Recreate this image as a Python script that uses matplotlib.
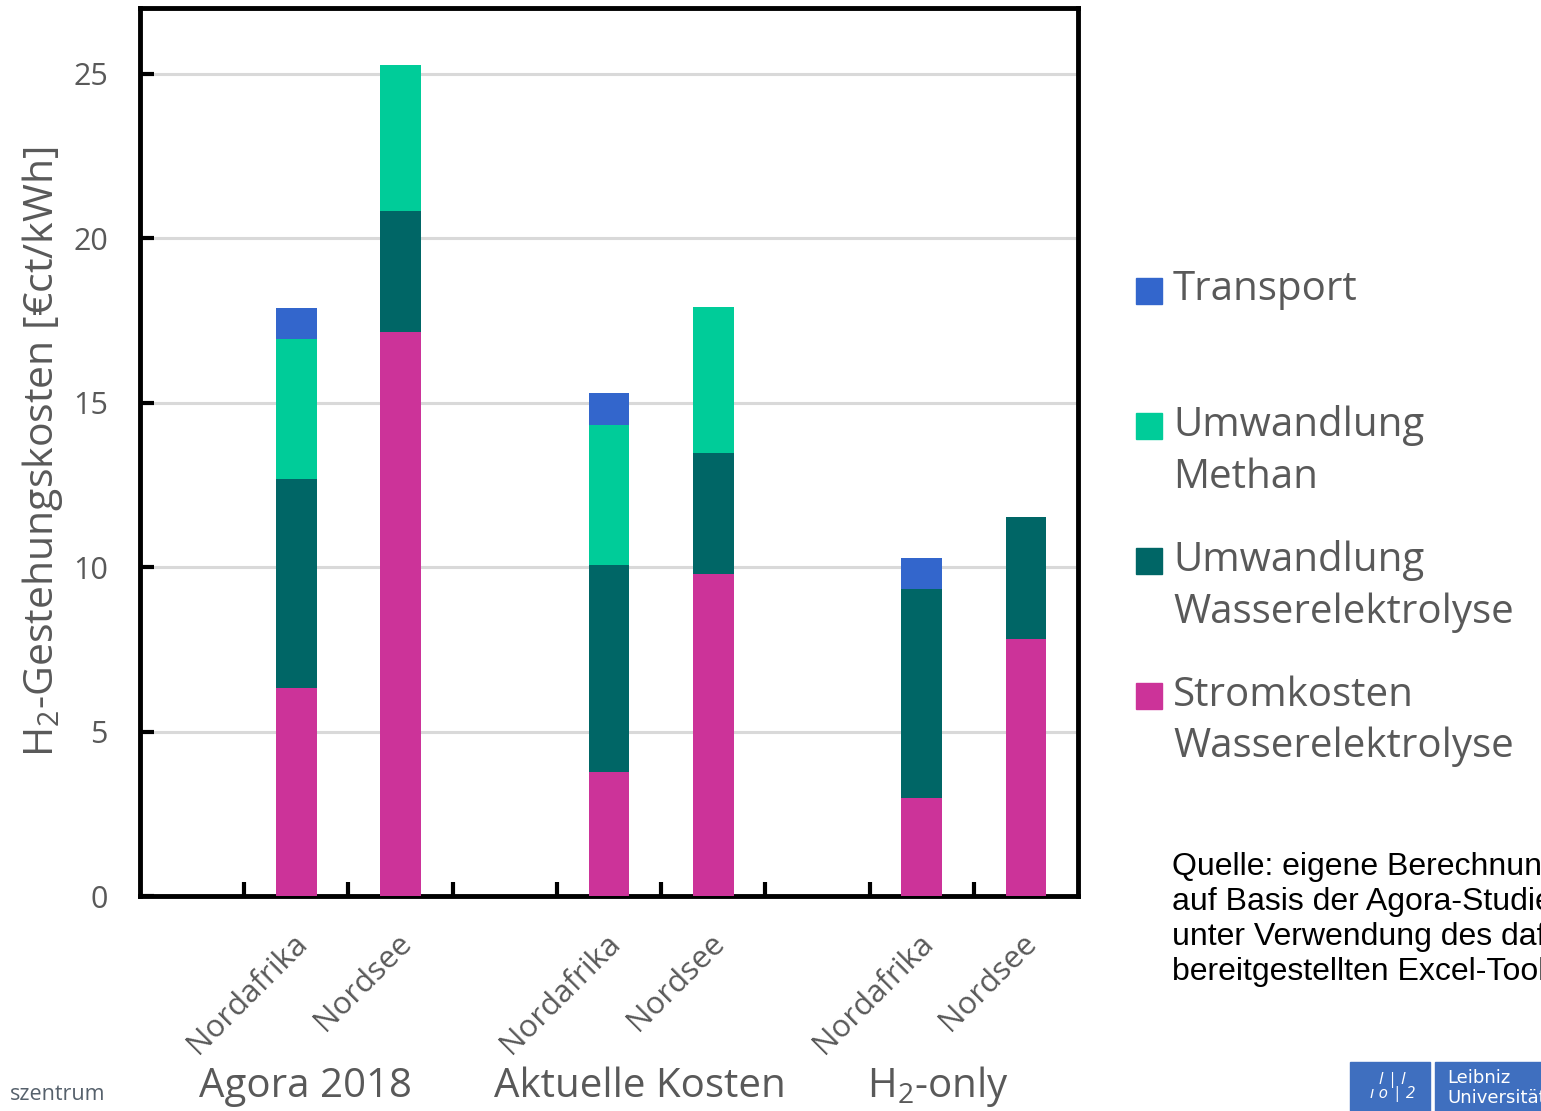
import matplotlib
matplotlib.use("Agg")
import matplotlib.pyplot as plt
import matplotlib.transforms as mtransforms
from matplotlib.patches import Rectangle

plt.rcParams['font.family'] = ['Open Sans', 'DejaVu Sans']
plt.rcParams['mathtext.fontset'] = 'custom'
plt.rcParams['mathtext.rm'] = 'Open Sans'
plt.rcParams['mathtext.it'] = 'Open Sans:italic'

# Daten: H2-Gestehungskosten in ct/kWh, gestapelt
slots = [1, 2, 4, 5, 7, 8]
orte = ["Nordafrika", "Nordsee", "Nordafrika", "Nordsee", "Nordafrika", "Nordsee"]
szenarien = ["Agora 2018", "Aktuelle Kosten", "H$_2$-only"]
strom = [6.33, 17.15, 3.77, 9.79, 2.98, 7.82]
wasser = [6.35, 3.68, 6.30, 3.68, 6.36, 3.71]
methan = [4.26, 4.44, 4.25, 4.44, 0.0, 0.0]
transport = [0.94, 0.0, 0.98, 0.0, 0.94, 0.0]

farben = {
    "strom": "#CC3399",
    "wasser": "#006666",
    "methan": "#00CC99",
    "transport": "#3366CC",
}
grau = "#595959"

fig = plt.figure(figsize=(15.41, 11.11), dpi=100)
ax = fig.add_axes([140 / 1541, 1 - 896 / 1111, (1078 - 140) / 1541, (896 - 8) / 1111])

breite = 0.39
unten = [0.0] * len(slots)
for werte, key in [(strom, "strom"), (wasser, "wasser"), (methan, "methan"), (transport, "transport")]:
    ax.bar(slots, werte, breite, bottom=unten, color=farben[key], zorder=3)
    unten = [u + w for u, w in zip(unten, werte)]

ax.set_xlim(-0.5, 8.5)
ax.set_ylim(0, 27)
ax.set_yticks([0, 5, 10, 15, 20, 25])
ax.yaxis.grid(True, color="#d9d9d9", linewidth=2.2, zorder=0)
ax.tick_params(axis="y", direction="in", length=10, width=3, labelsize=22,
               labelcolor=grau, pad=23)

# Kategorien mit Trennstrichen zwischen den Slots
ax.set_xticks(slots)
ax.set_xticklabels(orte, rotation=45, ha="right", rotation_mode="anchor",
                   fontsize=22.5, color=grau)
ax.tick_params(axis="x", which="major", length=0, pad=23)
verschiebung = mtransforms.ScaledTranslation(-4 / 100, 0, fig.dpi_scale_trans)
for lab in ax.get_xticklabels():
    lab.set_transform(lab.get_transform() + verschiebung)
ax.set_xticks([i + 0.5 for i in range(8)], minor=True)
ax.tick_params(axis="x", which="minor", direction="in", length=10, width=3)

for s in ax.spines.values():
    s.set_linewidth(3.5)
    s.set_color("black")

ax.set_ylabel("H$_2$-Gestehungskosten [€ct/kWh]", fontsize=29.5, color=grau, labelpad=6)

# Szenario-Beschriftung unter den Gruppen
for xpos, name in zip([1.09, 4.3, 7.15], szenarien):
    ax.text(xpos, -0.215, name, transform=ax.get_xaxis_transform(),
            ha="center", va="center", fontsize=29, color=grau)

# Legende rechts
eintraege = [
    ("transport", "Transport", 291),
    ("methan", "Umwandlung\nMethan", 426),
    ("wasser", "Umwandlung\nWasserelektrolyse", 561),
    ("strom", "Stromkosten\nWasserelektrolyse", 696),
]
for key, text, ypx in eintraege:
    fig.add_artist(Rectangle((1136 / 1541, 1 - (ypx + 13) / 1111), 26 / 1541, 26 / 1111,
                             transform=fig.transFigure, color=farben[key]))
    fig.text(1173 / 1541, 1 - (ypx - 21) / 1111, text, ha="left", va="top",
             fontsize=29, color=grau, linespacing=1.37)

fig.text(1172 / 1541, 1 - 852 / 1111,
         "Quelle: eigene Berechnung\nauf Basis der Agora-Studie\nunter Verwendung des dafür\nbereitgestellten Excel-Tools",
         ha="left", va="top", fontsize=23, family="Liberation Sans", color="black",
         linespacing=1.22)

# Fußzeile
fig.text(10 / 1541, 1 - 1094 / 1111, "szentrum", ha="left", va="center",
         fontsize=15.5, color="#56616c")
fig.add_artist(Rectangle((1350 / 1541, 0), 80 / 1541, 49 / 1111,
                         transform=fig.transFigure, color="#3f6fbf"))
fig.add_artist(Rectangle((1435 / 1541, 0), 120 / 1541, 49 / 1111,
                         transform=fig.transFigure, color="#3f6fbf"))
fig.text(1392 / 1541, 1 - 1087 / 1111, "l | l\nı o | 2", ha="center", va="center",
         fontsize=12, color="white", style="italic", linespacing=0.9)
fig.text(1447 / 1541, 1 - 1088 / 1111, "Leibniz\nUniversität", ha="left", va="center",
         fontsize=13, family="Liberation Sans Narrow", color="white", linespacing=1.1)

fig.savefig("out.png", dpi=100)
